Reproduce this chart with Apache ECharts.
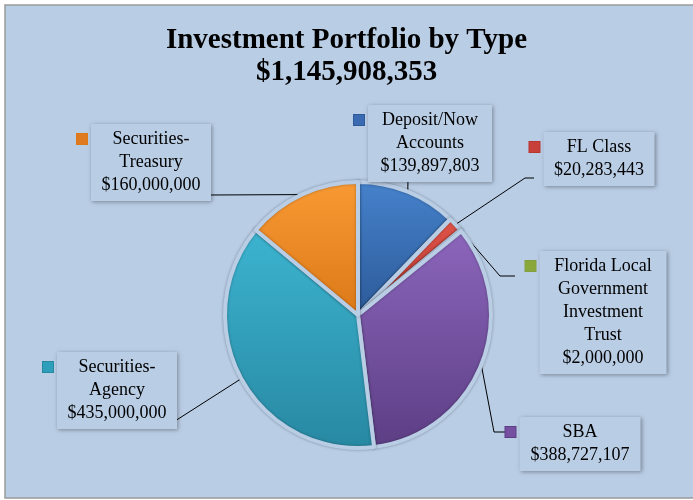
<!DOCTYPE html>
<html>
<head>
<meta charset="utf-8">
<script src="https://cdn.jsdelivr.net/npm/echarts@6/dist/echarts.min.js"></script>
<style>
    html, body { margin: 0; padding: 0; background: #ffffff; }
    #chart { width: 693px; height: 500px; }
</style>
</head>
<body>
<div id="chart"></div>
<script>
// chart data
const categories = [
    'Deposit/Now\nAccounts',
    'FL Class',
    'Florida Local\nGovernment\nInvestment\nTrust',
    'SBA',
    'Securities-\nAgency',
    'Securities-\nTreasury'
];
const amounts = [139897803, 20283443, 2000000, 388727107, 435000000, 160000000];
const titleText = 'Investment Portfolio by Type\n$1,145,908,353';

// slice colours: [top, bottom, marker]
const sliceColors = [
    ['#4682cc', '#2c5a98', '#3a6ab0'],
    ['#e0554a', '#b8362e', '#c8403a'],
    ['#a8c865', '#83a040', '#8aa83a'],
    ['#8c66bc', '#5c3e84', '#7650a0'],
    ['#3cb4d0', '#2888a2', '#2e9fba'],
    ['#f89a34', '#dc7818', '#e07a20']
];

// label boxes: [centerX, top, boxWidth]
const boxPos = [
    [430, 105, 124],
    [599, 132, 111],
    [603, 251, 127],
    [580, 417, 121],
    [117, 352, 120],
    [151, 124, 120]
];
// label line bends: [elbowX, elbowY, endX, endY]
const linePos = [
    [408, 178, 408, 178],
    [525, 178, 534, 178],
    [500, 276, 515, 276],
    [494, 432, 505, 432],
    [175, 421, 168, 421],
    [210, 195, 200, 195]
];

const bg = '#b9cde5';
const padH = 6;

function money(v) {
    return '$' + v.toLocaleString('en-US');
}

const chart = echarts.init(document.getElementById('chart'));

const pieData = amounts.map((v, i) => ({
    name: categories[i],
    value: v,
    itemStyle: {
        color: new echarts.graphic.LinearGradient(0, 0, 0, 1, [
            { offset: 0, color: sliceColors[i][0] },
            { offset: 1, color: sliceColors[i][1] }
        ])
    },
    label: { width: boxPos[i][2] - padH * 2 }
}));

const markerData = amounts.map((v, i) => ({
    name: categories[i],
    value: v,
    label: {
        rich: {
            m: {
                width: 10,
                height: 10,
                backgroundColor: sliceColors[i][2],
                borderColor: sliceColors[i][1],
                borderWidth: 1
            }
        }
    }
}));

const option = {
    backgroundColor: '#ffffff',
    graphic: [{
        type: 'rect',
        z: -10,
        shape: { x: 5, y: 5, width: 720, height: 493 },
        style: { fill: bg, stroke: '#9a9a9a', lineWidth: 1.5 }
    }],
    title: {
        text: titleText,
        left: 'center',
        top: 20,
        textStyle: {
            fontFamily: 'Liberation Serif',
            fontWeight: 'bold',
            fontSize: 29,
            lineHeight: 32,
            color: '#000'
        }
    },
    series: [
        {
            type: 'pie',
            center: [358, 315],
            radius: 133,
            startAngle: 90,
            clockwise: true,
            avoidLabelOverlap: false,
            animation: false,
            itemStyle: {
                borderColor: bg,
                borderWidth: 4,
                shadowColor: 'rgba(0,0,0,0.3)',
                shadowBlur: 3
            },
            label: {
                show: true,
                position: 'outside',
                formatter: p => p.name + '\n' + money(p.value),
                fontFamily: 'Liberation Serif',
                fontSize: 18,
                lineHeight: 23,
                color: '#000',
                align: 'center',
                backgroundColor: bg,
                padding: [4, padH],
                shadowColor: 'rgba(0,0,0,0.35)',
                shadowBlur: 4,
                shadowOffsetX: 1,
                shadowOffsetY: 1
            },
            labelLine: {
                show: true,
                length: 10,
                length2: 10,
                lineStyle: { color: '#000', width: 1 }
            },
            labelLayout: function (params) {
                const i = params.dataIndex;
                const b = boxPos[i];
                const l = linePos[i];
                const p0 = params.labelLinePoints ? params.labelLinePoints[0] : [l[0], l[1]];
                return {
                    x: b[0],
                    y: b[1],
                    align: 'center',
                    verticalAlign: 'top',
                    labelLinePoints: [p0, [l[0], l[1]], [l[2], l[3]]]
                };
            },
            data: pieData
        },
        {
            type: 'pie',
            center: [358, 315],
            radius: 133,
            startAngle: 90,
            silent: true,
            animation: false,
            avoidLabelOverlap: false,
            itemStyle: { color: 'rgba(0,0,0,0)', borderWidth: 0 },
            label: {
                show: true,
                position: 'outside',
                formatter: '{m|}'
            },
            labelLine: { show: false },
            labelLayout: function (params) {
                const b = boxPos[params.dataIndex];
                return {
                    x: b[0] - b[2] / 2 - 9,
                    y: b[1] + 15,
                    align: 'center',
                    verticalAlign: 'middle'
                };
            },
            data: markerData
        }
    ]
};

chart.setOption(option);
</script>
</body>
</html>
